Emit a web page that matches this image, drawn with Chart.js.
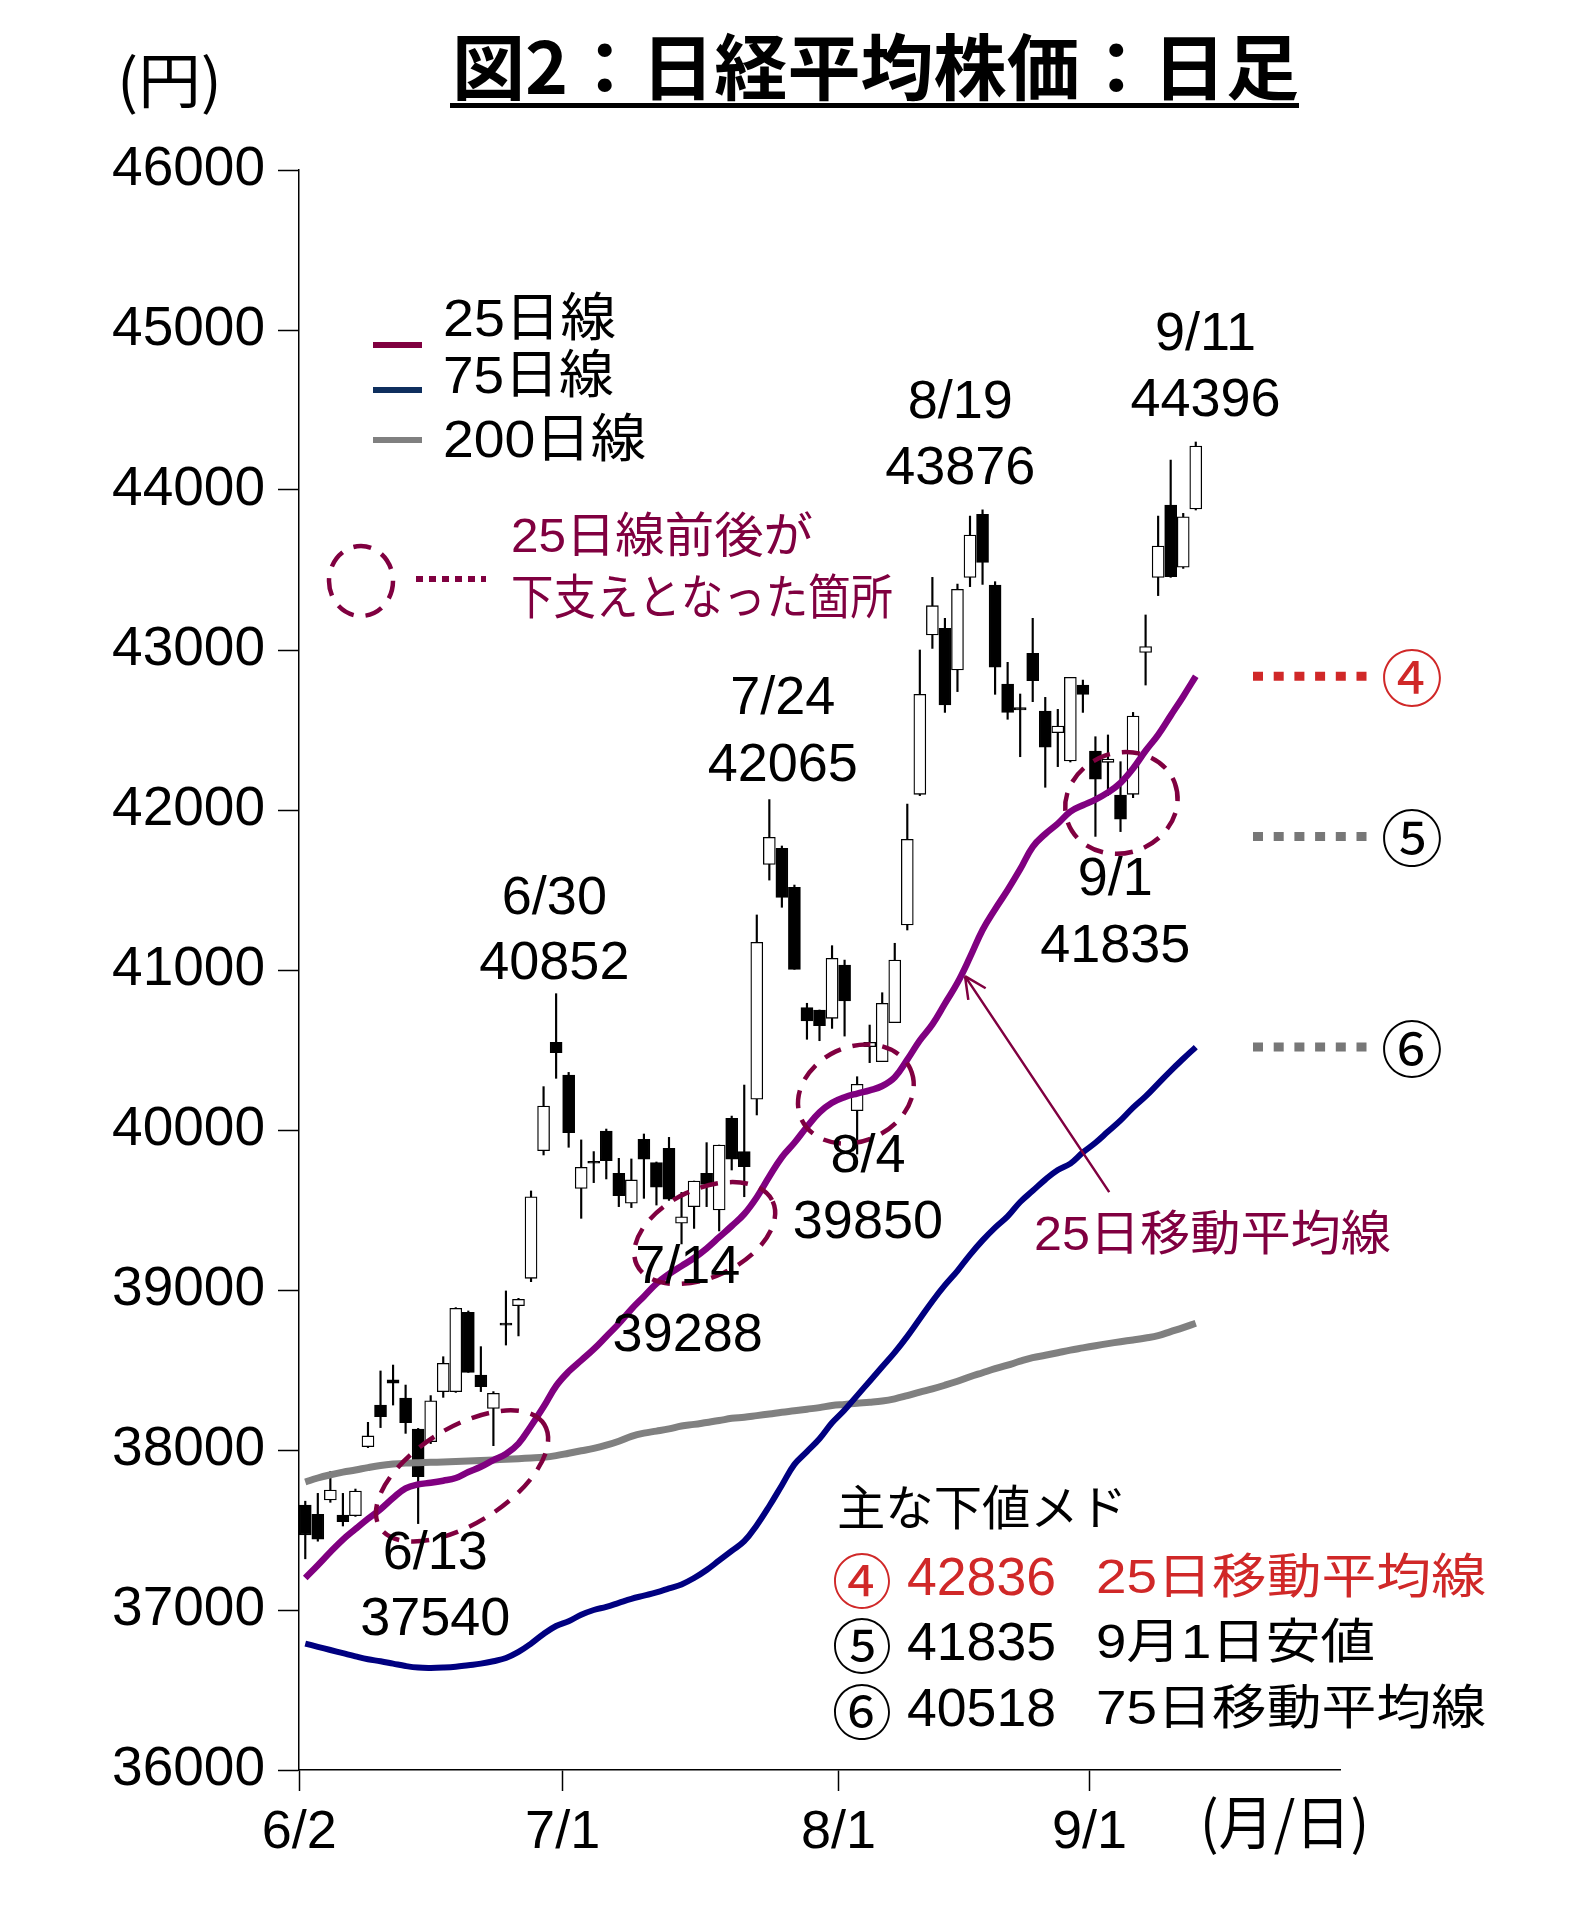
<!DOCTYPE html>
<html>
<head>
<meta charset="utf-8">
<script src="https://cdn.jsdelivr.net/npm/chart.js@4.4.1/dist/chart.umd.min.js"></script>
<style>
  html, body { margin: 0; padding: 0; background: #fff; }
  canvas { display: block; }
</style>
</head>
<body>
<canvas id="nikkeiChart" width="1571" height="1931"></canvas>
<script>
// trading days shown on the chart
const dates = [
  '6/2','6/3','6/4','6/5','6/6','6/9','6/10','6/11','6/12','6/13',
  '6/16','6/17','6/18','6/19','6/20','6/23','6/24','6/25','6/26','6/27','6/30',
  '7/1','7/2','7/3','7/4','7/7','7/8','7/9','7/10','7/11','7/14',
  '7/15','7/16','7/17','7/18','7/22','7/23','7/24','7/25','7/28','7/29','7/30','7/31',
  '8/1','8/4','8/5','8/6','8/7','8/8','8/12','8/13','8/14','8/15',
  '8/18','8/19','8/20','8/21','8/22','8/25','8/26','8/27','8/28','8/29',
  '9/1','9/2','9/3','9/4','9/5','9/8','9/9','9/10','9/11'
];
const tickDates = ['6/2', '7/1', '8/1', '9/1'];
const emptyDays = 11; // blank space at the right end of the axis

const opens = [
  37656,37598,37688,37594,37590,38021,38281,38438,38325,38131,
  38052,38365,38365,38860,38469,38260,38792,38902,39073,39871,40548,
  40344,39635,39800,39994,39729,39542,39942,39796,39885,39417,
  39521,39729,39500,40073,39865,40192,41660,41760,41517,40765,40750,40698,
  41031,40121,40521,40427,40671,41281,42098,43094,43135,42875,
  43454,43848,43406,42787,42640,42979,42619,42483,42306,42781,
  42369,42298,42094,42098,42985,43454,43906,43517,43881
];
const highs = [
  37680,37729,37865,37729,37756,38173,38494,38531,38406,38135,
  38340,38583,38890,38869,38646,38365,38994,38948,39619,40271,40852,
  40360,39938,39865,40006,39823,39819,39975,39800,39954,39610,
  39681,39921,39906,40087,40281,41344,42065,41775,41531,40792,40750,41152,
  41062,40333,40656,40858,41167,42037,43000,43454,43198,43412,
  43837,43876,43427,42923,42725,43198,42704,42629,42829,42812,
  42458,42469,42302,42610,43219,43837,44187,43854,44300
];
const lows = [
  37320,37430,37673,37525,37585,38015,38140,38281,38104,37540,
  38040,38329,38360,38485,38365,38027,38656,38713,39052,39844,40323,
  39892,39448,39671,39694,39521,39515,39573,39531,39560,39288,
  39385,39521,39369,39750,39583,40094,41562,41392,41004,40567,40558,40635,
  40587,39850,40421,40427,40671,41250,42090,43010,42610,42740,
  43396,43410,42723,42567,42333,42677,42142,42271,42300,42610,
  41835,42090,41865,42077,42781,43340,43454,43510,43875
];
const closes = [
  37470,37442,37750,37552,37744,38088,38208,38417,38171,37833,
  38308,38542,38885,38485,38396,38354,38780,38942,39583,40150,40483,
  39983,39767,39792,39808,39590,39688,39817,39642,39567,39458,
  39681,39660,39906,39817,39771,41173,41829,41454,41004,40681,40652,41073,
  40806,40286,40548,40792,41062,41817,42723,43277,42656,43379,
  43719,43548,42892,42610,42625,42808,42392,42525,42829,42723,
  42192,42319,41942,42587,43021,43650,43458,43833,44275
];
const ma25 = [
  37200,37280,37362,37440,37506,37570,37630,37700,37760,37785,37795,37808,37825,
  37862,37895,37937,37975,38040,38150,38270,38400,38490,38560,
  38630,38710,38790,38880,38960,39040,39100,39150,39200,39260,39330,39400,39475,39580,39710,39830,
  39920,40020,40110,40170,40205,40228,40248,40275,40330,40440,40560,40660,40790,40920,41080,41250,41380,41500,41630,41770,
  41850,41915,41990,42030,42065,42110,42170,42260,42370,42470,42590,42710,42836
];
const ma75 = [
  36790,36770,36750,36730,36710,36692,36680,36665,36650,36640,
  36638,36640,36645,36655,36665,36680,36700,36738,36790,36850,
  36900,36930,36970,37000,37020,37045,37070,37090,37110,37135,
  37160,37200,37250,37310,37370,37430,37530,37650,37780,37910,
  37990,38070,38170,38250,38340,38430,38520,38610,38710,38820,
  38930,39030,39120,39220,39310,39390,39460,39550,39620,39690,
  39750,39790,39860,39920,39990,40060,40140,40210,40290,40370,
  40445,40518
];
const ma200 = [
  37800,37825,37845,37862,37875,37890,37903,37912,37918,37921,
  37923,37925,37928,37931,37935,37938,37942,37946,37950,37955,
  37965,37980,37995,38010,38030,38055,38085,38105,38118,38132,
  38150,38160,38172,38184,38198,38205,38215,38225,38236,38245,
  38255,38265,38278,38285,38292,38298,38306,38320,38340,38362,
  38382,38405,38430,38458,38483,38508,38530,38555,38577,38592,
  38608,38624,38638,38652,38665,38677,38688,38700,38715,38740,
  38765,38792
];

// support levels listed at the lower right
const supportMarks = ['④', '⑤', '⑥'];
const supportValues = [42836, 41835, 40518];
const supportNotes = ['25日移動平均線', '9月1日安値', '75日移動平均線'];

const labels = dates.concat(new Array(emptyDays).fill(''));

const MAROON = '#800040';
const RED = '#d02828';
const NUM = '"Liberation Sans", "Noto Sans CJK JP", sans-serif';
const JP = '"Liberation Sans", "Noto Sans CJK JP", sans-serif';

function drawText(ctx, str, x, y, font, color, align, width) {
  ctx.save();
  ctx.font = font;
  ctx.fillStyle = color;
  ctx.textBaseline = 'middle';
  ctx.textAlign = 'left';
  const w = ctx.measureText(str).width;
  const k = width ? width / w : 1;
  let left = x;
  if (align === 'center') left = x - w * k / 2;
  if (align === 'right') left = x - w * k;
  ctx.translate(left, y);
  ctx.scale(k, 1);
  ctx.fillText(str, 0, 0);
  ctx.restore();
}

function dashedEllipse(ctx, cx, cy, a, b, deg) {
  ctx.save();
  ctx.strokeStyle = MAROON;
  ctx.lineWidth = 4.5;
  ctx.setLineDash([18, 12]);
  ctx.beginPath();
  ctx.ellipse(cx, cy, a, b, deg * Math.PI / 180, 0, Math.PI * 2);
  ctx.stroke();
  ctx.restore();
}

function dottedLine(ctx, x1, x2, y, color, width, dash) {
  ctx.save();
  ctx.strokeStyle = color;
  ctx.lineWidth = width;
  ctx.lineCap = 'butt';
  ctx.setLineDash(dash);
  ctx.beginPath();
  ctx.moveTo(x1, y);
  ctx.lineTo(x2, y);
  ctx.stroke();
  ctx.restore();
}

const overlay = {
  id: 'overlay',
  afterDatasetsDraw(chart) {
    const ctx = chart.ctx;
    const xs = chart.scales.x, ys = chart.scales.y;
    const px = i => xs.getPixelForValue(i);
    const py = v => ys.getPixelForValue(v);

    // circles around the places where the 25-day line held
    dashedEllipse(ctx, px(12.5), py(37838), 97, 48, -32);
    dashedEllipse(ctx, px(31.85), py(39356), 75, 44, -25);
    dashedEllipse(ctx, px(43.9), py(40225), 60, 47, -25);
    dashedEllipse(ctx, px(65.07), py(42044), 57, 50, -20);

    // date / price callouts
    const callouts = [
      [19.86, 41444, '6/30', 41038, '40852'],
      [10.36, 37350, '6/13', 36938, '37540'],
      [30.49, 39138, '7/14', 38713, '39288'],
      [38.07, 42694, '7/24', 42275, '42065'],
      [44.86, 39831, '8/4', 39419, '39850'],
      [52.22, 44544, '8/19', 44131, '43876'],
      [71.78, 44969, '9/11', 44556, '44396'],
      [64.58, 41563, '9/1', 41144, '41835']
    ];
    callouts.forEach(c => {
      drawText(ctx, c[2], px(c[0]), py(c[1]), '54px ' + NUM, '#000', 'center');
      drawText(ctx, c[4], px(c[0]), py(c[3]), '54px ' + NUM, '#000', 'center');
    });

    // arrow pointing at the 25-day line
    const hx = px(52.6), hy = py(40962), tx = px(64.1), ty = py(39612);
    ctx.save();
    ctx.strokeStyle = MAROON;
    ctx.lineWidth = 2.5;
    ctx.beginPath();
    ctx.moveTo(tx, ty);
    ctx.lineTo(hx, hy);
    const ang = Math.atan2(ty - hy, tx - hx);
    [0.45, -0.45].forEach(d => {
      ctx.moveTo(hx, hy);
      ctx.lineTo(hx + 24 * Math.cos(ang + d), hy + 24 * Math.sin(ang + d));
    });
    ctx.stroke();
    ctx.restore();
    drawText(ctx, '25日移動平均線', 1034, 1237, '48px ' + JP, MAROON, 'left', 357);

    // support markers on the right
    const markColors = [RED, '#777777', '#777777'];
    supportValues.forEach((v, i) => {
      const y = py(v);
      dottedLine(ctx, 1253, 1367, y, markColors[i], 9, [10, 10.7]);
      drawText(ctx, supportMarks[i], 1412, y + 2, '62px "Noto Sans CJK JP"', i === 0 ? RED : '#000', 'center');
    });
  },
  afterDraw(chart) {
    const ctx = chart.ctx;

    // title
    drawText(ctx, '図2：日経平均株価：日足', 452, 67, 'bold 72px "Noto Sans CJK JP"', '#000', 'left', 847);
    ctx.fillStyle = '#000';
    ctx.fillRect(450, 103, 849, 5);
    drawText(ctx, '(円)', 117, 80, '60px "Noto Sans CJK JP"', '#000', 'left', 105);
    drawText(ctx, '(月/日)', 1200, 1822, '58px "Noto Sans CJK JP"', '#000', 'left', 169);

    // legend
    const legend = [['25日線', '#800040', 345, 322, 173], ['75日線', '#0e2f5e', 390, 379, 171], ['200日線', '#808080', 440, 443, 203]];
    legend.forEach(l => {
      ctx.save();
      ctx.strokeStyle = l[1];
      ctx.lineWidth = 6;
      ctx.beginPath();
      ctx.moveTo(373, l[2]);
      ctx.lineTo(422, l[2]);
      ctx.stroke();
      ctx.restore();
      drawText(ctx, l[0], 443, l[3], '52px ' + JP, '#000', 'left', l[4]);
    });

    // explanation of the dashed circles
    dashedEllipse(ctx, 361, 581, 32, 35, 0);
    dottedLine(ctx, 416, 486, 579, MAROON, 6, [7, 6]);
    drawText(ctx, '25日線前後が', 511, 539, '48px ' + JP, MAROON, 'left', 302);
    drawText(ctx, '下支えとなった箇所', 511, 601, '48px ' + JP, MAROON, 'left', 382);

    // main support levels
    drawText(ctx, '主な下値メド', 837, 1512, '48px ' + JP, '#000', 'left', 290);
    const rowY = [1580, 1645, 1711];
    supportValues.forEach((v, i) => {
      const col = i === 0 ? RED : '#000';
      drawText(ctx, supportMarks[i], 862, rowY[i] + 1, '60px "Noto Sans CJK JP"', col, 'center');
      drawText(ctx, String(v), 907, rowY[i], '54px ' + NUM, col, 'left', 149);
      const noteW = [390, 279, 390][i];
      drawText(ctx, supportNotes[i], 1096, rowY[i], '48px ' + JP, col, 'left', noteW);
    });
  }
};

const ctx = document.getElementById('nikkeiChart').getContext('2d');

new Chart(ctx, {
  type: 'bar',
  data: {
    labels: labels,
    datasets: [{
      type: 'line',
      label: '25日線',
      data: ma25,
      borderColor: '#800080',
      borderWidth: 6.5,
      pointRadius: 0,
      tension: 0.4,
      order: 0
    }, {
      type: 'line',
      label: '75日線',
      data: ma75,
      borderColor: '#000080',
      borderWidth: 6,
      pointRadius: 0,
      tension: 0.4,
      order: 0
    }, {
      type: 'line',
      label: '200日線',
      data: ma200,
      borderColor: '#808080',
      borderWidth: 7,
      pointRadius: 0,
      tension: 0.4,
      order: 0
    }, {
      label: 'body',
      data: opens.map((o, i) => [o, closes[i]]),
      backgroundColor: opens.map((o, i) => closes[i] >= o ? '#ffffff' : '#000000'),
      borderColor: '#000',
      borderWidth: 1.3,
      borderSkipped: false,
      barThickness: 12,
      minBarLength: 2,
      grouped: false,
      order: 1
    }, {
      label: 'wick',
      data: lows.map((l, i) => [l, highs[i]]),
      backgroundColor: '#000',
      barThickness: 1.5,
      grouped: false,
      order: 2
    }]
  },
  options: {
    responsive: false,
    animation: false,
    devicePixelRatio: 1,
    layout: { padding: { top: 170, right: 231, left: 0, bottom: 0 } },
    plugins: {
      legend: { display: false },
      tooltip: { enabled: false }
    },
    scales: {
      x: {
        offset: true,
        grid: {
          offset: true,
          drawOnChartArea: false,
          drawTicks: true,
          tickLength: 21,
          tickWidth: 1.5,
          tickColor: c => (c.tick && tickDates.includes(c.tick.label)) ? '#000' : 'rgba(0,0,0,0)'
        },
        border: { color: '#000', width: 1.5 },
        ticks: {
          autoSkip: false,
          maxRotation: 0,
          minRotation: 0,
          padding: 10,
          labelOffset: -6,
          color: '#000',
          font: { family: 'Liberation Sans', size: 54 },
          callback: (v, i) => tickDates.includes(labels[i]) ? labels[i] : ''
        },
        afterFit: s => { s.height = 161; }
      },
      y: {
        min: 36000,
        max: 46000,
        grid: {
          drawOnChartArea: false,
          tickLength: 21,
          tickWidth: 1.5,
          tickColor: '#000'
        },
        border: { color: '#000', width: 1.5 },
        ticks: {
          stepSize: 1000,
          padding: 13,
          color: '#000',
          font: { family: 'Liberation Sans', size: 55 },
          callback: v => String(v)
        },
        afterFit: s => { s.width = 299; }
      }
    }
  },
  plugins: [overlay]
});
</script>
</body>
</html>
